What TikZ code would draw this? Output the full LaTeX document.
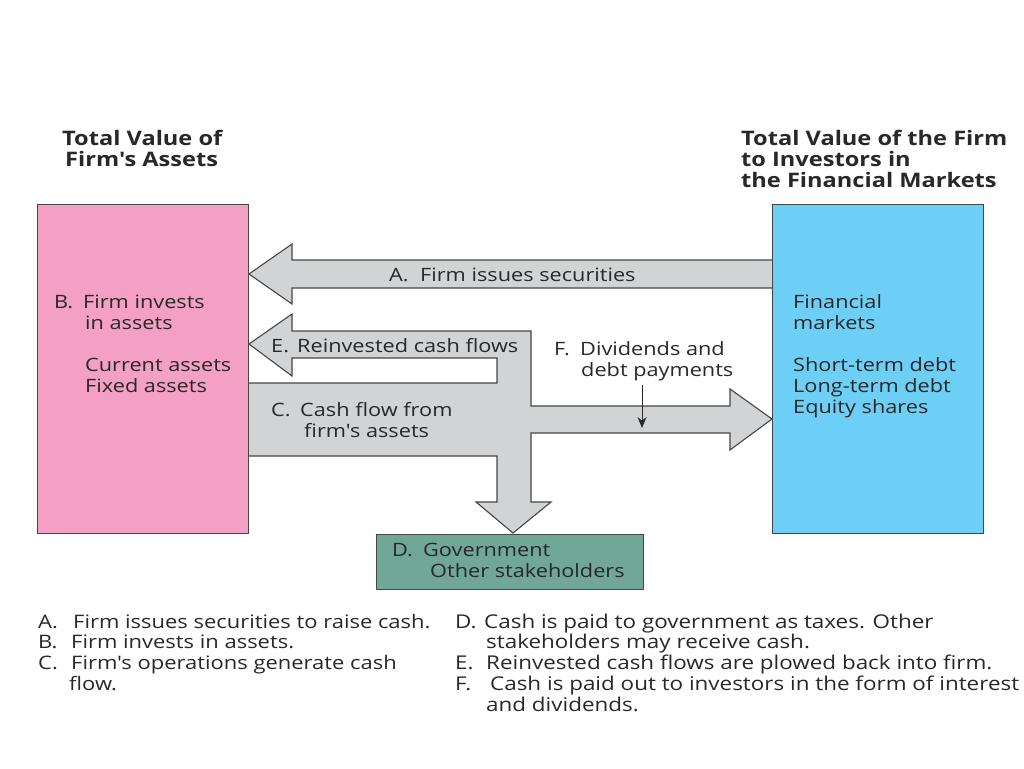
\documentclass[tikz,border=0pt]{standalone}
\usepackage{fontspec}
\setmainfont{Open Sans}[FakeStretch=1.18,Ligatures=TeXOff]
\usetikzlibrary{arrows.meta}
\definecolor{assetpink}{RGB}{243,160,196}
\definecolor{marketblue}{RGB}{110,207,246}
\definecolor{govgreen}{RGB}{112,167,151}
\definecolor{flowgray}{RGB}{209,211,212}
\definecolor{edgegray}{RGB}{70,70,70}
\definecolor{inkgray}{RGB}{40,40,40}
\newcommand\lettr[2]{\makebox[#1pt][l]{#2}}
\begin{document}
\begin{tikzpicture}[x=1pt,y=-1pt,
    txt/.style={anchor=base west,inner sep=0pt,text=inkgray,font=\fontsize{18.4}{21}\selectfont},
    leg/.style={txt,font=\fontsize{19}{21}\selectfont},
    legl/.style={txt,font=\fontsize{18.6}{21}\selectfont},
    ttl/.style={txt,font=\bfseries\fontsize{20}{21}\selectfont},
    box/.style={draw=edgegray,line width=1pt,anchor=north west},
    flow/.style={fill=flowgray,draw=edgegray,line width=1.1pt,line join=miter}]
    \useasboundingbox (0,0) rectangle (1024,768);

    % flows
    \filldraw[flow] (772,260) -- (292,260) -- (292,244) -- (249,274) -- (292,304) -- (292,288) -- (772,288);
    \filldraw[flow] (248,383) -- (497,383) -- (497,358) -- (292,358) -- (292,376) -- (249,344) -- (292,314)
        -- (292,331) -- (531,331) -- (531,406) -- (730,406) -- (730,389) -- (772,419) -- (730,450)
        -- (730,433) -- (531,433) -- (531,502) -- (551,502) -- (513,533) -- (476,502) -- (497,502)
        -- (497,456) -- (248,456);

    % boxes
    \node[box,fill=assetpink,minimum width=211pt,minimum height=329pt] (assets) at (37,204) {};
    \node[box,fill=marketblue,minimum width=211pt,minimum height=329pt] (markets) at (772,204) {};
    \node[box,fill=govgreen,minimum width=267pt,minimum height=55pt] (gov) at (376,534) {};

    % headings
    \node[ttl] (tvassets1) at (62,145) {Total Value of};
    \node[ttl] (tvassets2) at (65,166) {Firm's Assets};
    \node[ttl] (tvfirm1) at (741,145) {Total Value of the Firm};
    \node[ttl] (tvfirm2) at (741,166) {to Investors in};
    \node[ttl] (tvfirm3) at (741,187) {the Financial Markets};

    % labels in the boxes
    \node[txt] (invest1) at (54,308) {\lettr{29}{B.}Firm invests};
    \node[txt] (invest2) at (85,329) {in assets};
    \node[txt] (current) at (85,371) {Current assets};
    \node[txt] (fixed) at (85,392) {Fixed assets};
    \node[txt] (fin1) at (793,308) {Financial};
    \node[txt] (fin2) at (793,329) {markets};
    \node[txt] (short) at (793,371) {Short-term debt};
    \node[txt] (long) at (793,392) {Long-term debt};
    \node[txt] (equity) at (793,413) {Equity shares};
    \node[txt] (gov1) at (392,556) {\lettr{31}{D.}Government};
    \node[txt] (gov2) at (430,577) {Other stakeholders};

    % labels on the flows
    \node[txt] (issue) at (389,281) {\lettr{31}{A.}Firm issues securities};
    \node[txt] (reinv) at (271,352) {\lettr{26}{E.}Reinvested cash flows};
    \node[txt] (cash1) at (271,416) {\lettr{29}{C.}Cash flow from};
    \node[txt] (cash2) at (304,437) {firm's assets};
    \node[txt] (div1) at (554,355) {\lettr{26}{F.}Dividends and};
    \node[txt] (div2) at (581,376) {debt payments};
    \coordinate (divtip) at (642,428);
    \draw[-{Stealth[length=11pt,width=9pt]},line width=1pt,inkgray] (div2.south -| divtip) ++(0,4) -- (divtip);

    % legend
    \node[legl] (legA) at (38,628) {\lettr{35}{A.}Firm issues securities to raise cash.};
    \node[legl] (legB) at (38,648) {\lettr{33}{B.}Firm invests in assets.};
    \node[legl] (legC) at (38,669) {\lettr{33}{C.}Firm's operations generate cash};
    \node[legl] (legC2) at (69,690) {flow.};
    \node[leg] (legD) at (455,628) {\lettr{29}{D.}Cash is paid to government as taxes. Other};
    \node[leg] (legD2) at (486,648) {stakeholders may receive cash.};
    \node[leg] (legE) at (455,669) {\lettr{31}{E.}Reinvested cash flows are plowed back into firm.};
    \node[leg] (legF) at (455,690) {\lettr{35}{F.}Cash is paid out to investors in the form of interest};
    \node[leg] (legF2) at (486,711) {and dividends.};
\end{tikzpicture}
\end{document}
